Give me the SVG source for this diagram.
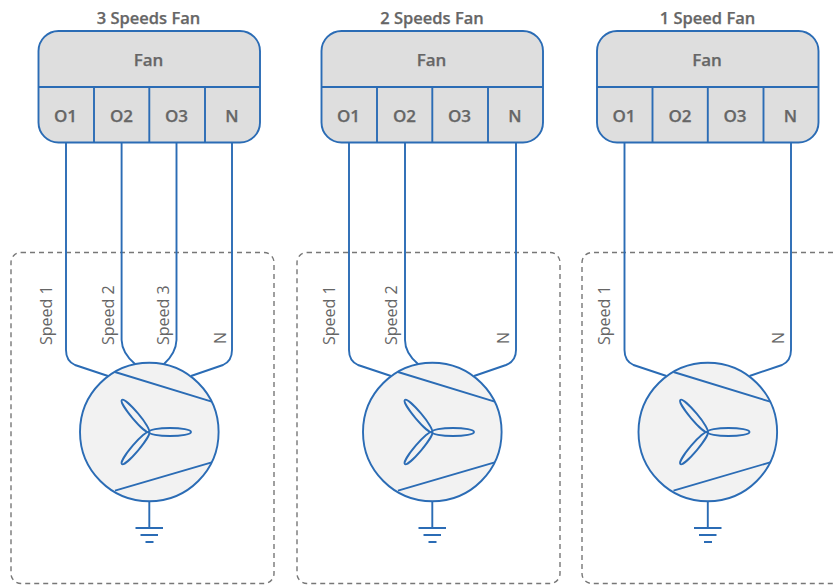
<svg xmlns="http://www.w3.org/2000/svg" width="833" height="585" viewBox="0 0 833 585">
<style>
text{font-family:"Open Sans","Noto Sans","Liberation Sans",sans-serif;fill:#666}
.t{font-size:16.500px;font-weight:600;text-anchor:middle;stroke:#666;stroke-width:.25}
.b{font-size:17px;font-weight:600;text-anchor:middle;stroke:#666;stroke-width:.25}
.l{font-size:16px}
.s{fill:none;stroke:#2b6cb5;stroke-width:1.900}
.f{fill:#dedede;stroke:#2b6cb5;stroke-width:1.900}
.m{fill:#f2f2f2;stroke:#2b6cb5;stroke-width:1.900}
.d{fill:none;stroke:#777;stroke-width:1.400;stroke-dasharray:5 4}
</style>
<defs>
<g id="motor">
<circle class="m" cx="149.3" cy="432" r="69.3"/>
<path class="s" d="M115 372L211.700 401.700M115 490.700L211.700 462.300"/>
<ellipse class="s" cx="170" cy="432" rx="21" ry="4"/>
<ellipse class="s" cx="21" cy="0" rx="21" ry="3.600" transform="translate(149 432) rotate(229.800)"/>
<ellipse class="s" cx="21" cy="0" rx="21" ry="3.600" transform="translate(149 432) rotate(130.200)"/>
<path class="s" d="M149.300 501.300V528M135.500 528H163M140.500 535H158M145.500 542H153.500"/>
</g>
<g id="box">
<rect class="f" x="38.500" y="31" width="221.500" height="111.500" rx="20" ry="20"/>
<path class="s" d="M38.500 87H260M94 87V142.500M149.300 87V142.500M205 87V142.500"/>
</g>
</defs>
<g id="panel-3">
<rect class="d" x="11" y="252.500" width="263" height="331" rx="10"/>
<text class="t" x="148.500" y="23.500">3 Speeds Fan</text>
</g>
<g id="panel-2">
<rect class="d" x="297" y="252.500" width="263" height="331" rx="10"/>
<text class="t" x="432" y="23.500">2 Speeds Fan</text>
</g>
<g id="panel-1">
<path class="d" d="M833 252.500H592a10 10 0 0 0 -10 10V573.500a10 10 0 0 0 10 10H833"/>
<text class="t" x="707.500" y="23.500">1 Speed Fan</text>
</g>
<g id="connectors">
<path class="s" d="M66 142.500V350Q66 361 75 365L108 376M121.600 142.500V340Q122 353 135 364M176.500 142.500V340Q176 353 164 364M232 142.500V350Q232 361 223 365L191 376"/>
<path class="s" d="M349 142.500V350Q349 361 358 365L391 376M405 142.500V340Q405 353 418 364M516 142.500V350Q516 361 506 365L474 376"/>
<path class="s" d="M624.500 142.500V350Q624.500 361 633.500 365L666.500 376M791 142.500V350Q791 361 782 365L749.500 376"/>
</g>
<g id="fan-3">
<use href="#box"/>
<text class="b" x="148.500" y="65.500">Fan</text>
<text class="b" x="65.500" y="121.500">O1</text><text class="b" x="121.500" y="121.500">O2</text><text class="b" x="176.500" y="121.500">O3</text><text class="b" x="232" y="121.500">N</text>
</g>
<g id="fan-2">
<use href="#box" x="283"/>
<text class="b" x="431.500" y="65.500">Fan</text>
<text class="b" x="348.500" y="121.500">O1</text><text class="b" x="404.500" y="121.500">O2</text><text class="b" x="459.500" y="121.500">O3</text><text class="b" x="515" y="121.500">N</text>
</g>
<g id="fan-1">
<use href="#box" x="558.500"/>
<text class="b" x="707" y="65.500">Fan</text>
<text class="b" x="624" y="121.500">O1</text><text class="b" x="680" y="121.500">O2</text><text class="b" x="735" y="121.500">O3</text><text class="b" x="790.500" y="121.500">N</text>
</g>
<g id="motor-3"><use href="#motor"/>
<text class="l" transform="translate(51.500 345) rotate(-90)">Speed 1</text>
<text class="l" transform="translate(113.500 345) rotate(-90)">Speed 2</text>
<text class="l" transform="translate(169 345) rotate(-90)">Speed 3</text>
<text class="l" transform="translate(225.500 344) rotate(-90)">N</text>
</g>
<g id="motor-2"><use href="#motor" x="283"/>
<text class="l" transform="translate(334.500 345) rotate(-90)">Speed 1</text>
<text class="l" transform="translate(396.500 345) rotate(-90)">Speed 2</text>
<text class="l" transform="translate(508.500 344) rotate(-90)">N</text>
</g>
<g id="motor-1"><use href="#motor" x="558.500"/>
<text class="l" transform="translate(610 345) rotate(-90)">Speed 1</text>
<text class="l" transform="translate(784 344) rotate(-90)">N</text>
</g>
</svg>
